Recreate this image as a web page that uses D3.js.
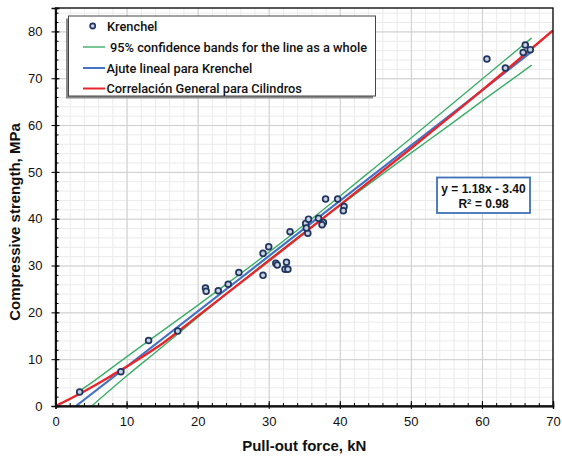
<!DOCTYPE html>
<html>
<head>
<meta charset="utf-8">
<script src="https://cdnjs.cloudflare.com/ajax/libs/d3/7.8.5/d3.min.js"></script>
<style>
  body { margin: 0; background: #fff; }
  text { font-family: "Liberation Sans", Arial, sans-serif; fill: #111; }
</style>
</head>
<body>
<script>
const width = 562;
const height = 456;

// Krenchel measurements (pull-out force kN, compressive strength MPa)
const pullOut = [3.4, 9.2, 13.1, 17.2, 21.1, 21.2, 22.9, 24.3, 25.8, 29.2, 30.0, 29.2,
    31.0, 31.2, 32.5, 32.3, 32.7, 33.0, 35.2, 35.6, 35.5, 35.3, 37.0, 37.7, 37.5,
    38.0, 39.7, 40.6, 40.5, 60.7, 63.3, 66.1, 65.8, 66.8];
const strength = [3.0, 7.3, 14.0, 16.0, 25.2, 24.5, 24.6, 26.0, 28.5, 32.6, 34.0, 27.9,
    30.5, 30.1, 30.7, 29.2, 29.2, 37.2, 39.0, 39.9, 36.9, 38.0, 40.1, 39.2, 38.7,
    44.2, 44.2, 42.6, 41.7, 74.1, 72.2, 77.1, 75.5, 76.1];

// linear fit shown in the box
const slope = 1.18;
const intercept = -3.40;
const r2 = 0.98;
const fitEnd = 67;

// 95% confidence band
const bandUpperX = [3.5, 5, 10, 15, 20, 25, 30, 35, 40, 45, 50, 55, 60, 67];
const bandUpperY = [3.3, 4.9, 10.5, 16.0, 21.5, 27.1, 32.8, 38.7, 44.8, 51.0, 57.2, 63.5, 69.8, 78.6];
const bandLowerX = [5.1, 10, 15, 20, 25, 30, 35, 40, 45, 50, 55, 60, 67];
const bandLowerY = [0.0, 6.4, 12.6, 18.9, 25.1, 31.2, 37.1, 42.8, 48.4, 54.0, 59.5, 65.1, 72.8];

// general correlation for cylinders
const corrX = [0, 2, 4, 6, 8, 10, 12, 15, 20, 30, 40, 50, 60, 70];
const corrY = [0, 1.5, 3.1, 4.8, 6.6, 8.4, 10.3, 13.3, 19.2, 31.0, 42.9, 55.0, 67.4, 80.2];

const xTicks = [0, 10, 20, 30, 40, 50, 60, 70];
const yTicks = [0, 10, 20, 30, 40, 50, 60, 70, 80];

const legendLabels = ['Krenchel', '95% confidence bands for the line as a whole',
    'Ajute lineal para Krenchel', 'Correlación General para Cilindros'];

const green = '#3dae6a';
const blue = '#4472c4';
const red = '#e6262b';

const svg = d3.select('body')
    .append('svg')
    .attr('width', width)
    .attr('height', height);

const x = d3.scaleLinear().domain([0, 70]).range([55.5, 553]);
const y = d3.scaleLinear().domain([0, 85]).range([406, 8]);
const plotH = y(0) - y(85);
const plotW = x(70) - x(0);

// grid, minor then major
const gridX = (vals, color) => svg.append('g')
    .attr('transform', `translate(0, ${y(0)})`)
    .call(d3.axisBottom(x).tickValues(vals).tickSize(-plotH).tickFormat(''))
    .call(g => g.select('.domain').remove())
    .call(g => g.selectAll('line').attr('stroke', color));
const gridY = (vals, color) => svg.append('g')
    .attr('transform', `translate(${x(0)}, 0)`)
    .call(d3.axisLeft(y).tickValues(vals).tickSize(-plotW).tickFormat(''))
    .call(g => g.select('.domain').remove())
    .call(g => g.selectAll('line').attr('stroke', color));

gridX(d3.range(2, 70, 2), '#ebebeb');
gridY(d3.range(2, 85, 2), '#ebebeb');
gridX(xTicks.slice(1, -1), '#cfcfcf');
gridY(yTicks.slice(1), '#cfcfcf');

svg.append('defs').append('clipPath').attr('id', 'plot')
    .append('rect').attr('x', x(0)).attr('y', y(85)).attr('width', plotW).attr('height', plotH);

const lines = svg.append('g').attr('clip-path', 'url(#plot)');
const line = d3.line().x(d => x(d[0])).y(d => y(d[1]));

lines.append('path')
    .datum(bandUpperX.map((v, i) => [v, bandUpperY[i]]))
    .attr('d', line.curve(d3.curveMonotoneX))
    .attr('fill', 'none').attr('stroke', green).attr('stroke-width', 1.4);
lines.append('path')
    .datum(bandLowerX.map((v, i) => [v, bandLowerY[i]]))
    .attr('d', line.curve(d3.curveMonotoneX))
    .attr('fill', 'none').attr('stroke', green).attr('stroke-width', 1.4);

const fitStart = -intercept / slope;
lines.append('path')
    .datum([[fitStart, 0], [fitEnd, slope * fitEnd + intercept]])
    .attr('d', line.curve(d3.curveLinear))
    .attr('fill', 'none').attr('stroke', blue).attr('stroke-width', 2.2);

lines.append('path')
    .datum(corrX.map((v, i) => [v, corrY[i]]))
    .attr('d', line.curve(d3.curveMonotoneX))
    .attr('fill', 'none').attr('stroke', red).attr('stroke-width', 2.4);

// points
svg.append('g').selectAll('circle')
    .data(pullOut)
    .enter()
    .append('circle')
    .attr('cx', d => x(d))
    .attr('cy', (d, i) => y(strength[i]))
    .attr('r', 2.9)
    .attr('fill', '#c9d0de')
    .attr('stroke', '#1f3560')
    .attr('stroke-width', 1.7);

// frame
svg.append('rect')
    .attr('x', x(0)).attr('y', y(85))
    .attr('width', plotW).attr('height', plotH)
    .attr('fill', 'none').attr('stroke', '#111').attr('stroke-width', 1.4);

// axes: outside major ticks with labels, inside ticks without
const xAxis = svg.append('g')
    .attr('transform', `translate(0, ${y(0)})`)
    .call(d3.axisBottom(x).tickValues(xTicks).tickSize(3).tickPadding(8));
svg.append('g')
    .attr('transform', `translate(0, ${y(0)})`)
    .call(d3.axisBottom(x).tickValues(xTicks).tickSize(-5).tickFormat(''));
svg.append('g')
    .attr('transform', `translate(0, ${y(0)})`)
    .call(d3.axisBottom(x).tickValues(d3.range(2, 70, 2)).tickSize(-3).tickFormat(''));

const yAxis = svg.append('g')
    .attr('transform', `translate(${x(0)}, 0)`)
    .call(d3.axisLeft(y).tickValues(yTicks).tickSize(4).tickPadding(9));
svg.append('g')
    .attr('transform', `translate(${x(0)}, 0)`)
    .call(d3.axisLeft(y).tickValues(yTicks).tickSize(-4).tickFormat(''));
svg.append('g')
    .attr('transform', `translate(${x(0)}, 0)`)
    .call(d3.axisLeft(y).tickValues(d3.range(2, 85, 2)).tickSize(-3).tickFormat(''));

svg.selectAll('.domain').attr('stroke', '#111').attr('stroke-width', 1.4);
xAxis.selectAll('text').style('font-size', '13px').attr('fill', '#222');
yAxis.selectAll('text').style('font-size', '13px').attr('fill', '#222');

// axis titles
svg.append('text')
    .attr('x', (x(0) + x(70)) / 2)
    .attr('y', 451)
    .attr('text-anchor', 'middle')
    .style('font-size', '15px')
    .style('font-weight', 'bold')
    .text('Pull-out force, kN');
svg.append('text')
    .attr('transform', 'translate(20, 222) rotate(-90)')
    .attr('text-anchor', 'middle')
    .style('font-size', '15px')
    .style('font-weight', 'bold')
    .text('Compressive strength, MPa');

// legend
const legend = svg.append('g').attr('id', 'legend');
legend.append('rect')
    .attr('x', 66).attr('y', 18.5).attr('width', 307).attr('height', 80)
    .attr('fill', '#8a8a8a');
legend.append('rect')
    .attr('x', 68.5).attr('y', 16).attr('width', 307).attr('height', 80)
    .attr('fill', '#fff').attr('stroke', '#444').attr('stroke-width', 1);

const rows = [26, 47, 68, 88.5];
legend.append('circle')
    .attr('cx', 92.7).attr('cy', rows[0]).attr('r', 2.6)
    .attr('fill', '#c9d0de').attr('stroke', '#1f3560').attr('stroke-width', 1.6);
[green, blue, red].forEach((c, i) => {
    legend.append('line')
        .attr('x1', 83).attr('x2', 105)
        .attr('y1', rows[i + 1]).attr('y2', rows[i + 1])
        .attr('stroke', c).attr('stroke-width', i === 0 ? 1.4 : 2);
});
legendLabels.forEach((t, i) => {
    legend.append('text')
        .attr('x', i === 0 ? 107 : (i === 1 ? 110 : 106.5))
        .attr('y', rows[i] + 4.5)
        .style('font-family', 'Roboto, sans-serif')
        .style('font-weight', 500)
        .style('font-size', '12.8px')
        .text(t);
});

// equation box
const eq = svg.append('g');
eq.append('rect')
    .attr('x', 437).attr('y', 177.5).attr('width', 93).attr('height', 35.5)
    .attr('fill', '#fff').attr('stroke', '#3f72b8').attr('stroke-width', 1.8);
eq.append('text')
    .attr('x', 483.5).attr('y', 192.5)
    .attr('text-anchor', 'middle')
    .style('font-size', '12px').style('font-weight', 'bold')
    .text(`y = ${slope.toFixed(2)}x - ${Math.abs(intercept).toFixed(2)}`);
const r2Text = eq.append('text')
    .attr('x', 483.5).attr('y', 208)
    .attr('text-anchor', 'middle')
    .style('font-size', '12px').style('font-weight', 'bold');
r2Text.append('tspan').text('R');
r2Text.append('tspan').attr('dy', -4).style('font-size', '8px').text('2');
r2Text.append('tspan').attr('dy', 4).text(` = ${r2.toFixed(2)}`);
</script>
</body>
</html>
